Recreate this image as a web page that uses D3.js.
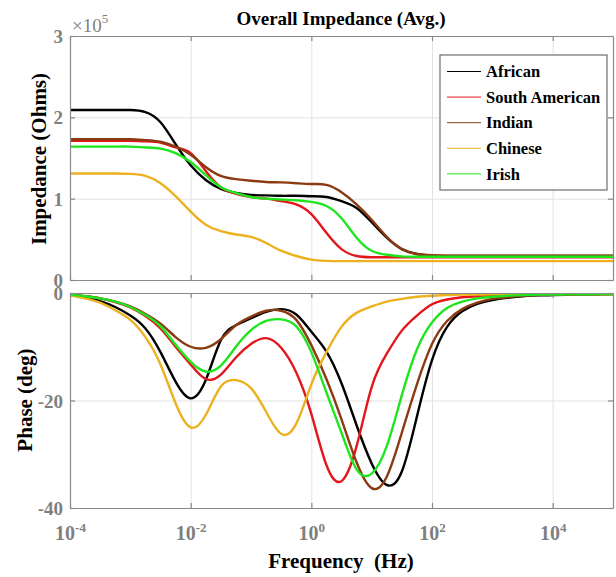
<!DOCTYPE html>
<html>
<head>
<meta charset="utf-8">
<title>Overall Impedance (Avg.)</title>
<script src="https://cdn.jsdelivr.net/npm/d3@7"></script>
<style>
  body { margin: 0; background: #fff; }
  svg, svg text { font-family: "Liberation Serif", "Times New Roman", serif; }
  .tick text { fill: #7f7f7f; font-weight: bold; font-size: 19px; }
  .grid line { stroke: #e2e2e2; }
  .grid path { display: none; }
</style>
</head>
<body>
<svg id="chart" width="616" height="577"></svg>
<script>
// frequency samples, log10(Hz)
var freqExp = [-4, -3.75, -3.5, -3.25, -3, -2.75, -2.5, -2.25, -2, -1.75, -1.5, -1.25, -1, -0.75, -0.5, -0.25,
               0, 0.25, 0.5, 0.75, 1, 1.25, 1.5, 1.75, 2, 2.25, 2.5, 2.75, 3, 3.25, 3.5, 3.75, 4, 4.25, 4.5, 4.75, 5];

var groups = ["African", "South American", "Indian", "Chinese", "Irish"];
var colors = ["#000000", "#e3161b", "#8b3a12", "#edb120", "#1ee61e"];

// impedance magnitude, x1e5 Ohms
var zAfrican  = [2.09, 2.09, 2.09, 2.09, 2.09, 2.065, 1.94, 1.67, 1.41, 1.23, 1.12, 1.07, 1.045, 1.04, 1.035, 1.035,
                 1.03, 1.02, 0.97, 0.885, 0.71, 0.52, 0.38, 0.32, 0.30, 0.295, 0.295, 0.295, 0.295, 0.295, 0.295, 0.295, 0.295, 0.295, 0.295, 0.295, 0.295];
var zSouthAm  = [1.71, 1.71, 1.71, 1.71, 1.71, 1.705, 1.69, 1.63, 1.56, 1.34, 1.14, 1.06, 1.02, 1.00, 0.97, 0.93,
                 0.81, 0.58, 0.38, 0.295, 0.28, 0.28, 0.28, 0.28, 0.28, 0.28, 0.28, 0.28, 0.28, 0.28, 0.28, 0.28, 0.28, 0.28, 0.28, 0.28, 0.28];
var zIndian   = [1.73, 1.73, 1.73, 1.73, 1.73, 1.72, 1.70, 1.64, 1.54, 1.39, 1.28, 1.24, 1.22, 1.205, 1.20, 1.19,
                 1.18, 1.17, 1.08, 0.93, 0.74, 0.53, 0.38, 0.32, 0.305, 0.30, 0.30, 0.30, 0.30, 0.30, 0.30, 0.30, 0.30, 0.30, 0.30, 0.30, 0.30];
var zChinese  = [1.31, 1.31, 1.31, 1.31, 1.305, 1.28, 1.19, 1.03, 0.84, 0.68, 0.60, 0.56, 0.53, 0.455, 0.36, 0.295,
                 0.25, 0.235, 0.232, 0.232, 0.232, 0.232, 0.232, 0.232, 0.232, 0.232, 0.232, 0.232, 0.232, 0.232, 0.232, 0.232, 0.232, 0.232, 0.232, 0.232, 0.232];
var zIrish    = [1.64, 1.64, 1.64, 1.64, 1.64, 1.63, 1.615, 1.56, 1.45, 1.29, 1.14, 1.07, 1.02, 1.00, 0.99, 0.98,
                 0.96, 0.91, 0.76, 0.52, 0.36, 0.31, 0.29, 0.285, 0.285, 0.285, 0.285, 0.285, 0.285, 0.285, 0.285, 0.285, 0.285, 0.285, 0.285, 0.285, 0.285];

// phase, degrees
var pAfrican  = [-0.4, -0.8, -1.5, -2.6, -4.2, -6.6, -11.0, -16.5, -19.6, -16.2, -8.8, -6.0, -4.7, -3.5, -3.0, -4.0,
                 -7.2, -10.9, -16.8, -24.6, -31.7, -35.7, -33.2, -23.0, -12.5, -6.3, -3.4, -2.0, -1.3, -0.9, -0.6, -0.45, -0.4, -0.35, -0.3, -0.25, -0.2];
var pSouthAm  = [-0.3, -0.6, -1.0, -1.7, -2.7, -4.3, -6.6, -10.0, -13.3, -16.0, -15.2, -12.0, -9.5, -8.4, -10.2, -14.8,
                 -22.5, -32.0, -35.0, -28.5, -17.5, -11.3, -7.0, -4.2, -2.1, -1.2, -0.8, -0.6, -0.5, -0.4, -0.3, -0.3, -0.25, -0.2, -0.2, -0.2, -0.2];
var pIndian   = [-0.3, -0.6, -1.0, -1.6, -2.5, -3.9, -5.7, -8.2, -10.0, -10.2, -8.6, -6.0, -4.4, -3.3, -3.3, -5.0,
                 -9.7, -16.0, -23.5, -31.5, -36.3, -34.2, -26.0, -17.0, -9.5, -5.2, -3.0, -1.8, -1.1, -0.8, -0.5, -0.4, -0.3, -0.3, -0.25, -0.2, -0.2];
var pChinese  = [-0.4, -1.0, -1.8, -3.2, -5.0, -8.2, -13.3, -20.5, -25.0, -22.7, -17.4, -16.2, -17.7, -22.1, -26.2, -24.3,
                 -17.0, -11.0, -6.3, -3.7, -2.5, -1.6, -1.1, -0.7, -0.5, -0.4, -0.3, -0.3, -0.25, -0.2, -0.2, -0.2, -0.2, -0.2, -0.2, -0.2, -0.2];
var pIrish    = [-0.3, -0.6, -1.0, -1.6, -2.6, -4.1, -6.2, -9.6, -12.8, -14.6, -13.5, -10.0, -6.9, -5.2, -4.9, -6.2,
                 -11.0, -18.5, -26.0, -32.8, -33.6, -28.5, -19.0, -10.5, -5.5, -2.8, -1.6, -1.0, -0.7, -0.5, -0.4, -0.3, -0.3, -0.25, -0.25, -0.2, -0.2];

var zTicks = [0, 1, 2, 3];
var pTicks = [-40, -20, 0];
var fTickExp = [-4, -2, 0, 2, 4];

var zSeries = [zAfrican, zSouthAm, zIndian, zChinese, zIrish];
var pSeries = [pAfrican, pSouthAm, pIndian, pChinese, pIrish];
var freq = freqExp.map(function(e) { return Math.pow(10, e); });

var svg = d3.select("#chart");
var left = 70, right = 613;
var top1 = 36, bot1 = 280, top2 = 293, bot2 = 508;
var serif = "'Liberation Serif', 'Times New Roman', serif";

var x = d3.scaleLog().domain([1e-4, 1e5]).range([left, right]);
var yZ = d3.scaleLinear().domain([0, 3]).range([bot1, top1]);
var yP = d3.scaleLinear().domain([-40, 0]).range([bot2, top2]);
var fTicks = fTickExp.map(function(e) { return Math.pow(10, e); });

function panel(y, yt, top, bot, name) {
  var g = svg.append("g");
  // grid
  g.append("g").attr("class", "grid")
    .attr("transform", "translate(0," + bot + ")")
    .call(d3.axisBottom(x).tickValues(fTicks).tickSize(-(bot - top)).tickFormat(""));
  g.append("g").attr("class", "grid")
    .attr("transform", "translate(" + left + ",0)")
    .call(d3.axisLeft(y).tickValues(yt).tickSize(-(right - left)).tickFormat(""));

  g.append("clipPath").attr("id", "clip-" + name)
    .append("rect").attr("x", left).attr("y", top).attr("width", right - left).attr("height", bot - top);
  return g;
}

function drawLines(g, y, series, name) {
  var line = d3.line()
    .x(function(d, i) { return x(freq[i]); })
    .y(function(d) { return y(d); })
    .curve(d3.curveNatural);
  g.append("g").attr("clip-path", "url(#clip-" + name + ")")
    .selectAll("path").data(series).join("path")
    .attr("d", line)
    .attr("fill", "none")
    .attr("stroke", function(d, i) { return colors[i]; })
    .attr("stroke-width", 2.4);
}

function frame(g, y, yt, top, bot, showX) {
  var ax = g.append("g").attr("transform", "translate(0," + bot + ")")
    .call(d3.axisBottom(x).tickValues(fTicks).tickSizeInner(-5).tickSizeOuter(0).tickPadding(14)
      .tickFormat(function() { return ""; }));
  var ax2 = g.append("g").attr("transform", "translate(0," + top + ")")
    .call(d3.axisTop(x).tickValues(fTicks).tickSizeInner(-5).tickSizeOuter(0).tickFormat(""));
  var ay = g.append("g").attr("transform", "translate(" + left + ",0)")
    .call(d3.axisLeft(y).tickValues(yt).tickSizeInner(-5).tickSizeOuter(0).tickPadding(7)
      .tickFormat(function(d) { return String(d); }));
  var ay2 = g.append("g").attr("transform", "translate(" + right + ",0)")
    .call(d3.axisRight(y).tickValues(yt).tickSizeInner(-5).tickSizeOuter(0).tickFormat(""));
  [ax, ax2, ay, ay2].forEach(function(a) {
    a.attr("font-family", serif).attr("font-size", null);
    a.selectAll("path, line").attr("stroke", "#8a8a8a").attr("stroke-width", 1.2);
  });
  ay.selectAll("text").attr("dy", "0.35em");
  if (showX) {
    ax.selectAll(".tick text").each(function(d) {
      var t = d3.select(this);
      t.text("");
      t.append("tspan").text("10");
      t.append("tspan").attr("dy", "-8").attr("font-size", "13px").text(String(Math.round(Math.log10(d))));
    }).attr("dy", "0.9em").style("font-size", "20px");
  }
}

var g1 = panel(yZ, [1, 2], top1, bot1, "z");
drawLines(g1, yZ, zSeries, "z");
frame(g1, yZ, zTicks, top1, bot1, false);

var g2 = panel(yP, [-20], top2, bot2, "p");
drawLines(g2, yP, pSeries, "p");
frame(g2, yP, pTicks, top2, bot2, true);

// titles and labels
svg.append("text").attr("x", 341).attr("y", 25).attr("text-anchor", "middle")
  .attr("font-weight", "bold").attr("font-size", "19px").text("Overall Impedance (Avg.)");

var mult = svg.append("text").attr("x", 72).attr("y", 32).attr("fill", "#7f7f7f").attr("font-size", "19px");
mult.append("tspan").text("\u00d710");
mult.append("tspan").attr("dy", "-9").attr("font-size", "13px").text("5");

svg.append("text").attr("transform", "translate(46,159) rotate(-90)").attr("text-anchor", "middle")
  .attr("font-weight", "bold").attr("font-size", "21px").text("Impedance (Ohms)");
svg.append("text").attr("transform", "translate(32,400) rotate(-90)").attr("text-anchor", "middle")
  .attr("font-weight", "bold").attr("font-size", "21px").text("Phase (deg)");
svg.append("text").attr("x", 341).attr("y", 568).attr("text-anchor", "middle")
  .attr("font-weight", "bold").attr("font-size", "21px").style("white-space", "pre").text("Frequency  (Hz)");

// legend
var leg = svg.append("g");
leg.append("rect").attr("x", 440).attr("y", 55).attr("width", 167).attr("height", 135)
  .attr("fill", "#fff").attr("stroke", "#6e6e6e").attr("stroke-width", 1.2);
var items = leg.selectAll("g.item").data(groups).join("g").attr("class", "item")
  .attr("transform", function(d, i) { return "translate(0," + (71.5 + i * 25.6) + ")"; });
items.append("line").attr("x1", 447).attr("x2", 481)
  .attr("stroke", function(d, i) { return colors[i]; }).attr("stroke-width", 1);
items.append("text").attr("x", 486).attr("dy", "0.35em")
  .attr("font-weight", "bold").attr("font-size", "16.5px").text(function(d) { return d; });
</script>
</body>
</html>
